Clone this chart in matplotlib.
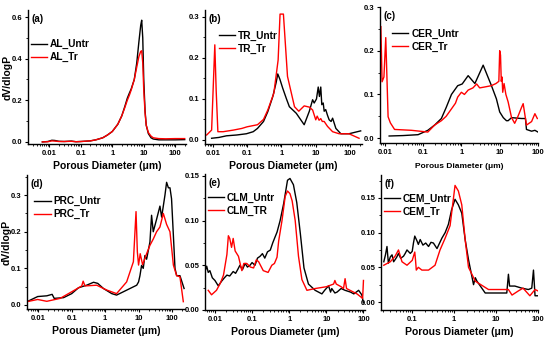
import matplotlib
matplotlib.use("Agg")
import matplotlib.pyplot as plt
from matplotlib.ticker import FixedLocator, LogLocator, NullFormatter, AutoMinorLocator

plt.rcParams['font.family'] = ['Liberation Sans', 'DejaVu Sans']
plt.rcParams['font.weight'] = 'bold'

# ---- (a) AL ----
a_x_untr = [0.006, 0.009, 0.012, 0.015, 0.02, 0.03, 0.05, 0.07, 0.1, 0.2, 0.3, 0.5, 0.7, 1, 1.5, 2, 2.5, 3, 3.5,
            4, 5, 6, 7, 8, 8.6, 9.3, 10, 11, 12, 14, 17, 20, 30, 50, 100, 200]
a_y_untr = [0.0, 0.002, 0.008, 0.007, 0.003, 0.002, 0.004, 0.001, 0.002, 0.005, 0.01, 0.02, 0.033, 0.05, 0.085,
            0.125, 0.17, 0.21, 0.235, 0.255, 0.3, 0.38, 0.48, 0.56, 0.585, 0.5, 0.3, 0.15, 0.08, 0.04, 0.02,
            0.014, 0.01, 0.01, 0.01, 0.011]
a_x_tr = a_x_untr
a_y_tr = [0.0, 0.001, 0.005, 0.004, 0.002, 0.002, 0.003, 0.001, 0.002, 0.005, 0.01, 0.02, 0.033, 0.05, 0.085,
          0.125, 0.165, 0.2, 0.225, 0.25, 0.3, 0.36, 0.41, 0.435, 0.438, 0.38, 0.25, 0.14, 0.08, 0.045, 0.028,
          0.02, 0.016, 0.015, 0.016, 0.016]

# ---- (b) TR ----
b_x_untr = [0.0092, 0.015, 0.025, 0.05, 0.095, 0.15, 0.2, 0.3, 0.4, 0.56, 0.7, 0.78, 0.9, 1.09, 1.4, 1.7, 2.7,
            4.6, 6.5, 8.1, 9, 10.5, 11.8, 12.8, 14, 15, 16.5, 17.6, 19.5, 22, 24.6, 28, 31, 38.6, 54, 93, 204]
b_y_untr = [0.004, 0.006, 0.01, 0.012, 0.015, 0.02, 0.028, 0.045, 0.069, 0.106, 0.14, 0.161, 0.148, 0.126, 0.1,
            0.081, 0.065, 0.037, 0.07, 0.098, 0.09, 0.1, 0.129, 0.106, 0.129, 0.086, 0.09, 0.07, 0.074, 0.06,
            0.049, 0.045, 0.053, 0.028, 0.015, 0.015, 0.022]
b_x_tr = [0.0066, 0.0092, 0.0114, 0.0125, 0.014, 0.02, 0.04, 0.07, 0.1, 0.2, 0.3, 0.4, 0.6, 0.8, 0.91, 1.14, 1.5,
          2.4, 3.2, 4.6, 6.5, 8.1, 10, 11, 12.5, 14, 15.5, 17.6, 22, 31, 48, 93, 183]
b_y_tr = [0.012, 0.024, 0.232, 0.12, 0.02, 0.02, 0.024, 0.028, 0.032, 0.037, 0.05, 0.073, 0.114, 0.195, 0.307,
          0.307, 0.155, 0.081, 0.07, 0.083, 0.08, 0.073, 0.049, 0.058, 0.048, 0.052, 0.045, 0.045, 0.033, 0.02,
          0.015, 0.015, 0.004]

# ---- (c) CER ----
c_x_untr = [0.013, 0.03, 0.074, 0.133, 0.2, 0.3, 0.4, 0.55, 0.8, 1.05, 1.5, 2.25, 3.7, 6.1, 8.2, 10, 12.4, 15,
            16.6, 20.4, 37, 47, 50, 68, 83, 100]
c_y_untr = [0.005, 0.006, 0.008, 0.018, 0.03, 0.045, 0.07, 0.1, 0.12, 0.124, 0.143, 0.125, 0.167, 0.12, 0.09,
            0.06, 0.047, 0.04, 0.04, 0.047, 0.045, 0.045, 0.02, 0.016, 0.018, 0.014]
c_x_tr = [0.0079, 0.0085, 0.0095, 0.0106, 0.0122, 0.014, 0.018, 0.05, 0.133, 0.2, 0.3, 0.4, 0.55, 0.7, 0.8, 1.0,
          1.2, 1.5, 2.0, 2.5, 3.0, 4.0, 6.0, 8.0, 9.5, 10.0, 10.5, 11.0, 11.5, 12.0, 13.0, 14.5, 16.6, 20.4, 24.6,
          30, 37, 41, 50, 68, 83, 96]
c_y_tr = [0.255, 0.129, 0.14, 0.23, 0.049, 0.035, 0.02, 0.018, 0.014, 0.03, 0.04, 0.05, 0.067, 0.08, 0.094, 0.105,
          0.1, 0.11, 0.115, 0.124, 0.115, 0.117, 0.12, 0.125, 0.13, 0.2, 0.19, 0.13, 0.14, 0.105, 0.125, 0.1,
          0.083, 0.047, 0.034, 0.05, 0.07, 0.079, 0.03, 0.038, 0.056, 0.045]

# ---- (d) PRC ----
d_x_untr = [0.0046, 0.0096, 0.018, 0.026, 0.03, 0.057, 0.1, 0.16, 0.28, 0.45, 0.6, 0.89, 1.58, 2.2, 3.5, 8.8, 10,
            11, 12.3, 13.8, 15.5, 17.4, 21.9, 24.5, 27.5, 34.6, 43.6, 49, 61.6, 69, 78, 87, 97, 110, 123, 138,
            173, 230]
d_y_untr = [0.009, 0.023, 0.025, 0.029, 0.018, 0.02, 0.031, 0.047, 0.054, 0.062, 0.059, 0.045, 0.031, 0.027,
            0.036, 0.054, 0.063, 0.08, 0.108, 0.1, 0.135, 0.125, 0.172, 0.245, 0.2, 0.234, 0.27, 0.24, 0.3, 0.335,
            0.32, 0.32, 0.29, 0.19, 0.1, 0.08, 0.08, 0.045]
d_x_tr = [0.0046, 0.0096, 0.018, 0.045, 0.1, 0.2, 0.22, 0.25, 0.56, 1.1, 2.2, 4.4, 7, 8.4, 9.2, 10, 11.2, 13.2,
          17.4, 21.9, 27.5, 34.6, 43.6, 55, 69, 87, 110, 138, 173, 218]
d_y_tr = [0.009, 0.015, 0.01, 0.018, 0.036, 0.052, 0.065, 0.052, 0.054, 0.041, 0.031, 0.063, 0.118, 0.255, 0.145,
          0.109, 0.14, 0.11, 0.14, 0.163, 0.18, 0.2, 0.213, 0.25, 0.22, 0.2, 0.109, 0.08, 0.077, 0.009]

# ---- (e) CLM ----
e_x_untr = [0.0048, 0.0055, 0.006, 0.0066, 0.0073, 0.0085, 0.01, 0.0123, 0.015, 0.018, 0.021, 0.025, 0.031,
            0.036, 0.042, 0.047, 0.055, 0.065, 0.075, 0.088, 0.1, 0.12, 0.14, 0.164, 0.19, 0.22, 0.26, 0.31, 0.36,
            0.42, 0.47, 0.57, 0.71, 0.9, 1.05, 1.3, 1.6, 2.0, 2.5, 3.3, 5, 7.6, 9, 11.5, 13, 14, 17, 19.4, 25, 32,
            45, 55, 74, 90, 100]
e_y_untr = [0.048, 0.044, 0.049, 0.042, 0.044, 0.036, 0.033, 0.027, 0.032, 0.036, 0.039, 0.038, 0.043, 0.041,
            0.046, 0.05, 0.045, 0.052, 0.048, 0.05, 0.053, 0.05, 0.058, 0.06, 0.063, 0.058, 0.065, 0.067, 0.075,
            0.082, 0.087, 0.1, 0.119, 0.145, 0.147, 0.14, 0.12, 0.085, 0.047, 0.029, 0.022, 0.018, 0.022, 0.027,
            0.02, 0.024, 0.019, 0.02, 0.024, 0.022, 0.02, 0.018, 0.022, 0.017, 0.008]
e_x_tr = [0.0066, 0.0081, 0.011, 0.014, 0.017, 0.021, 0.023, 0.025, 0.028, 0.031, 0.035, 0.043, 0.053, 0.06,
          0.072, 0.09, 0.11, 0.13, 0.15, 0.2, 0.27, 0.34, 0.4, 0.47, 0.52, 0.64, 0.78, 0.9, 1.05, 1.2, 1.45, 1.78,
          2.2, 3.0, 5, 10, 15.7, 17, 18.5, 25, 29, 32, 35, 67, 95, 100]
e_y_tr = [0.022, 0.017, 0.022, 0.03, 0.039, 0.062, 0.083, 0.08, 0.07, 0.08, 0.066, 0.06, 0.044, 0.052, 0.052,
          0.048, 0.047, 0.056, 0.054, 0.044, 0.042, 0.05, 0.052, 0.059, 0.077, 0.1, 0.127, 0.133, 0.13, 0.122,
          0.1, 0.06, 0.034, 0.022, 0.024, 0.026, 0.029, 0.033, 0.029, 0.026, 0.024, 0.035, 0.024, 0.018, 0.013,
          0.033]

# ---- (f) CEM ----
f_x_untr = [0.021, 0.023, 0.025, 0.027, 0.03, 0.033, 0.036, 0.039, 0.043, 0.047, 0.053, 0.062, 0.068, 0.075,
            0.09, 0.1, 0.107, 0.115, 0.13, 0.14, 0.155, 0.18, 0.21, 0.245, 0.28, 0.32, 0.39, 0.45, 0.51, 0.61,
            0.73, 0.87, 1.05, 1.26, 1.52, 1.83, 2.2, 2.9, 3.2, 3.5, 5.5, 18, 19.7, 21, 28, 41, 59, 71, 78, 85, 100]
f_y_untr = [0.058, 0.068, 0.08, 0.056, 0.065, 0.068, 0.058, 0.061, 0.065, 0.07, 0.063, 0.066, 0.07, 0.075, 0.07,
            0.073, 0.085, 0.095, 0.088, 0.083, 0.09, 0.082, 0.085, 0.08, 0.086, 0.085, 0.077, 0.085, 0.092, 0.1,
            0.112, 0.133, 0.148, 0.14, 0.128, 0.09, 0.061, 0.025, 0.035, 0.03, 0.013, 0.013, 0.04, 0.023, 0.023,
            0.02, 0.018, 0.02, 0.046, 0.009, 0.009]
f_x_tr = [0.021, 0.03, 0.039, 0.047, 0.057, 0.075, 0.1, 0.115, 0.12, 0.125, 0.14, 0.17, 0.245, 0.35, 0.46, 0.61,
          0.8, 1.05, 1.26, 1.52, 1.83, 2.2, 3.2, 6.6, 19.7, 24, 34, 44, 64, 85, 100]
f_y_tr = [0.053, 0.058, 0.066, 0.075, 0.058, 0.053, 0.06, 0.072, 0.06, 0.046, 0.05, 0.046, 0.046, 0.053, 0.075,
          0.092, 0.11, 0.168, 0.16, 0.14, 0.09, 0.05, 0.03, 0.018, 0.018, 0.01, 0.016, 0.02, 0.009, 0.018, 0.016]

W, H = 550, 342
fig = plt.figure(figsize=(5.5, 3.42), dpi=100)


def make_ax(l, t, r, b):
    # pixel box -> figure fraction
    return fig.add_axes([l / W, 1 - b / H, (r - l) / W, (b - t) / H])


def xfmt(v):
    return ('%g' % v)


panels = [
    # tag, box, xlim, ylim, yticks, yfmt, xticks, legend labels, legend anchor, data
    ('(a)', (28, 10, 186, 144), (0.0021, 220), (-0.01, 0.634), [0, 0.2, 0.4, 0.6], '%.1f',
     [0.01, 0.1, 1, 10, 100], ('AL_Untr', 'AL_Tr'), (0.01, 0.79),
     (a_x_untr, a_y_untr, a_x_tr, a_y_tr)),
    ('(b)', (205, 10, 362, 144), (0.0059, 223), (-0.01, 0.317), [0, 0.1, 0.2, 0.3], '%.1f',
     [0.01, 0.1, 1, 10, 100], ('TR_Untr', 'TR_Tr'), (0.08, 0.855),
     (b_x_untr, b_y_untr, b_x_tr, b_y_tr)),
    ('(c)', (380, 7, 538, 143), (0.0075, 100), (-0.011, 0.3), [0, 0.1, 0.2, 0.3], '%.1f',
     [0.01, 0.1, 1, 10, 100], ('CER_Untr', 'CER_Tr'), (0.07, 0.85),
     (c_x_untr, c_y_untr, c_x_tr, c_y_tr)),
    ('(d)', (27, 175, 185, 309), (0.0046, 245), (-0.011, 0.355), [0, 0.1, 0.2, 0.3], '%.1f',
     [0.01, 0.1, 1, 10, 100], ('PRC_Untr', 'PRC_Tr'), (0.04, 0.85),
     (d_x_untr, d_y_untr, d_x_tr, d_y_tr)),
    ('(e)', (205, 174, 365, 310), (0.0054, 110), (0, 0.152), [0, 0.05, 0.10, 0.15], '%.2f',
     [0.01, 0.1, 1, 10, 100], ('CLM_Untr', 'CLM_TR'), (0.01, 0.87),
     (e_x_untr, e_y_untr, e_x_tr, e_y_tr)),
    ('(f)', (381, 175, 538, 310), (0.018, 100), (-0.0115, 0.183), [0, 0.05, 0.10, 0.15], '%.2f',
     [0.1, 1, 10, 100], ('CEM_Untr', 'CEM_Tr'), (0.01, 0.87),
     (f_x_untr, f_y_untr, f_x_tr, f_y_tr)),
]

for tag, box, xlim, ylim, yticks, yfmt, xticks, labels, anchor, data in panels:
    ax = make_ax(*box)
    xu, yu, xt, yt = data
    ax.plot(xu, yu, color='black', lw=1.0, label=labels[0])
    ax.plot(xt, yt, color='red', lw=1.0, label=labels[1])
    ax.set_xscale('log')
    ax.set_xlim(*xlim)
    ax.set_ylim(*ylim)

    ax.xaxis.set_major_locator(FixedLocator(xticks))
    ax.set_xticklabels([xfmt(v) for v in xticks])
    ax.xaxis.set_minor_locator(LogLocator(base=10, subs=range(2, 10), numticks=20))
    ax.xaxis.set_minor_formatter(NullFormatter())
    ax.set_yticks(yticks)
    ax.set_yticklabels([yfmt % v for v in yticks])
    ax.yaxis.set_minor_locator(AutoMinorLocator(2))

    for s in ('top', 'right'):
        ax.spines[s].set_visible(False)
    for s in ('left', 'bottom'):
        ax.spines[s].set_linewidth(1.0)
    ax.tick_params(which='major', direction='out', length=2.5, width=0.8, labelsize=5.5, pad=1.5)
    ax.tick_params(which='minor', direction='out', length=1.5, width=0.6)

    if tag == '(c)':
        ax.set_xlabel('Porous Diameter (\u03bcm)', fontsize=6, fontweight='bold', labelpad=5)
    else:
        ax.set_xlabel('Porous Diameter (\u03bcm)', fontsize=7.5, fontweight='bold', labelpad=3)
    if tag in ('(a)', '(d)'):
        ax.set_ylabel('dV/dlogP', fontsize=7.5, fontweight='bold')
        ax.yaxis.set_label_coords(-0.095, 0.5)

    ax.text(0.02, 0.97, tag, transform=ax.transAxes, fontsize=7, fontweight='bold', va='top', ha='left')
    ax.legend(loc='upper left', bbox_to_anchor=anchor, frameon=False, fontsize=7.3, handlelength=1.6,
              handletextpad=0.3, labelspacing=0.3, borderpad=0.1, borderaxespad=0)

fig.savefig('out.png', dpi=100)
